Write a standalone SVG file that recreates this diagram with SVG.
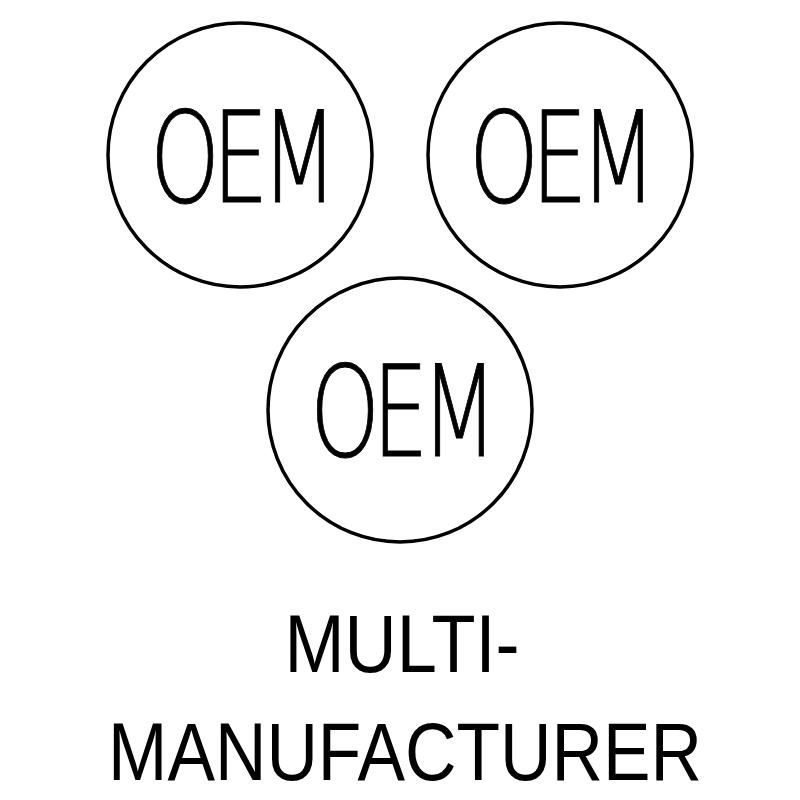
<svg xmlns="http://www.w3.org/2000/svg" width="800" height="800" viewBox="0 0 800 800">
<style>
.ring{fill:none;stroke:#000;stroke-width:3.5}
.oem{font-family:"DejaVu Sans","Liberation Sans",sans-serif;font-weight:200;font-size:127px;fill:#000;stroke:#000;stroke-width:1;text-anchor:middle;letter-spacing:-11px}
.cap{font-family:"Liberation Sans",Arial,sans-serif;font-size:81px;fill:#000;text-anchor:middle}
</style>
<rect width="800" height="800" fill="#fff"/>
<g id="oem1">
<circle class="ring" cx="240" cy="155" r="132"/>
<text class="oem" x="240" y="202" textLength="180" lengthAdjust="spacingAndGlyphs">OEM</text>
</g>
<g id="oem2">
<circle class="ring" cx="560" cy="155" r="132"/>
<text class="oem" x="559" y="202" textLength="180" lengthAdjust="spacingAndGlyphs">OEM</text>
</g>
<g id="oem3">
<circle class="ring" cx="400" cy="410" r="132"/>
<text class="oem" x="400" y="456" textLength="180" lengthAdjust="spacingAndGlyphs">OEM</text>
</g>
<g id="connectors"></g>
<g id="label">
<text class="cap" x="402" y="672" textLength="235" lengthAdjust="spacingAndGlyphs">MULTI-</text>
<text class="cap" x="405" y="780" textLength="594" lengthAdjust="spacingAndGlyphs">MANUFACTURER</text>
</g>
</svg>
